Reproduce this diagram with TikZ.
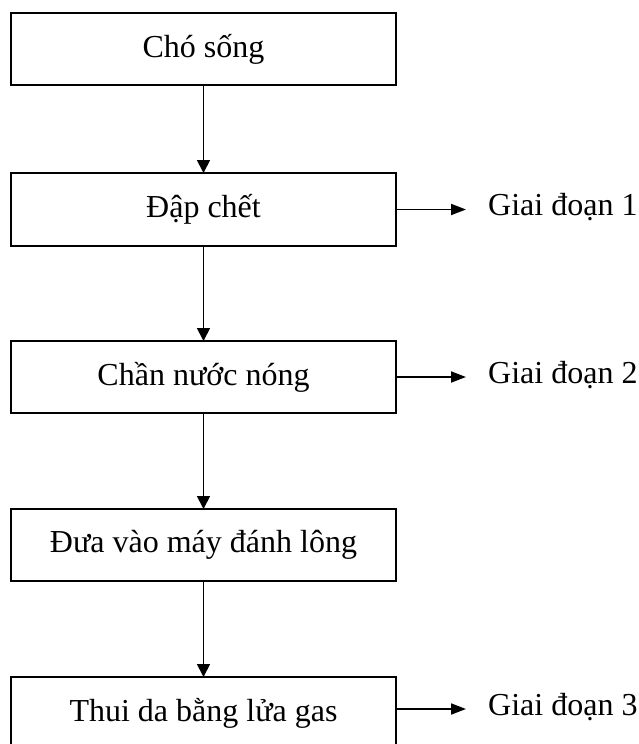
\documentclass[tikz,border=0pt]{standalone}
\usepackage{fontspec}
\setmainfont{Liberation Serif}
\usetikzlibrary{arrows.meta}
\begin{document}
\begin{tikzpicture}[x=1pt,y=-1pt,
  stepbox/.style={draw,line width=1.4pt,minimum width=385pt,minimum height=72pt,inner sep=0pt,outer sep=0pt,font=\fontsize{32}{36}\selectfont},
  flow/.style={line width=1.8pt,-{Triangle[width=13pt,length=13pt]}},
  side/.style={line width=1.8pt,-{Triangle[width=11pt,length=15pt]}},
  lab/.style={anchor=west,inner sep=0pt,font=\fontsize{32}{36}\selectfont}]
\useasboundingbox (0,0) rectangle (639,744);
\begin{scope}
\clip (0,0) rectangle (639,744);
\node[stepbox] (b1) at (203.5,49) {Chó sống};
\node[stepbox,minimum height=73pt] (b2) at (203.5,209.5) {Đập chết};
\node[stepbox] (b3) at (203.5,377) {Chần nước nóng};
\node[stepbox] (b4) at (203.5,545) {Đưa vào máy đánh lông};
\node[stepbox] (b5) at (203.5,713) {Thui da bằng lửa gas};
\end{scope}
\draw[flow] (b1.south) -- (b2.north);
\draw[flow] (b2.south) -- (b3.north);
\draw[flow] (b3.south) -- (b4.north);
\draw[flow] (b4.south) -- (b5.north);
\coordinate (e2) at (466,209.5);
\coordinate (e3) at (466,377);
\coordinate (e5) at (466,709);
\draw[side] (b2.east) -- (e2);
\draw[side] (b3.east) -- (e3);
\draw[side] (b5.east |- e5) -- (e5);
\node[lab] (g1) at (488,207) {Giai đoạn 1};
\node[lab] (g2) at (488,375) {Giai đoạn 2};
\node[lab] (g3) at (488,707) {Giai đoạn 3};
\end{tikzpicture}
\end{document}
